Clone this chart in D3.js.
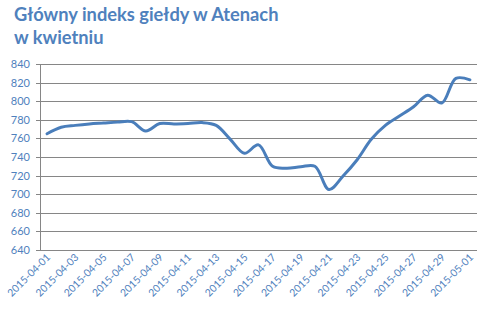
<!DOCTYPE html>
<html>
<head>
<meta charset="utf-8">
<script src="https://cdn.jsdelivr.net/npm/d3@7"></script>
<style>
  body { margin: 0; background: #fff; }
  text { font-family: Lato, "DejaVu Sans", sans-serif; }
</style>
</head>
<body>
<div id="chart"></div>
<script>
const titleLines = ["Główny indeks giełdy w Atenach", "w kwietniu"];

const dates = [
  "2015-04-01", "2015-04-02", "2015-04-03", "2015-04-04", "2015-04-05", "2015-04-06",
  "2015-04-07", "2015-04-08", "2015-04-09", "2015-04-10", "2015-04-11", "2015-04-12",
  "2015-04-13", "2015-04-14", "2015-04-15", "2015-04-16", "2015-04-17", "2015-04-18",
  "2015-04-19", "2015-04-20", "2015-04-21", "2015-04-22", "2015-04-23", "2015-04-24",
  "2015-04-25", "2015-04-26", "2015-04-27", "2015-04-28", "2015-04-29", "2015-04-30",
  "2015-05-01"
];

const values = [
  765, 772, 774, 775.5, 776.5, 777.5, 778, 768, 776, 775.5, 776, 777,
  774, 759, 744, 753, 730, 728, 729.5, 730, 705, 719.5, 737, 759,
  774, 784, 794, 806.5, 798, 824.5, 823
];

const yTicks = [640, 660, 680, 700, 720, 740, 760, 780, 800, 820, 840];

const width = 490;
const height = 309;
const margin = { top: 64, right: 13, bottom: 59, left: 40 };

const svg = d3.select("#chart").append("svg")
  .attr("width", width)
  .attr("height", height);

const x = d3.scalePoint()
  .domain(dates)
  .range([margin.left, width - margin.right])
  .padding(0.5);

const y = d3.scaleLinear()
  .domain([640, 840])
  .range([height - margin.bottom, margin.top]);

// title
svg.append("text")
  .attr("fill", "#4f81bd")
  .attr("font-size", "18.3px")
  .attr("font-weight", "bold")
  .selectAll("tspan")
  .data(titleLines)
  .enter()
  .append("tspan")
  .attr("x", 14)
  .attr("y", (d, i) => 21 + i * 23)
  .text(d => d);

// gridlines
svg.append("g")
  .selectAll("line")
  .data(yTicks)
  .enter()
  .append("line")
  .attr("x1", margin.left - 4)
  .attr("x2", width - margin.right)
  .attr("y1", d => Math.round(y(d)) + 0.5)
  .attr("y2", d => Math.round(y(d)) + 0.5)
  .attr("stroke", "#868686")
  .attr("stroke-width", 1);

// y axis line
svg.append("line")
  .attr("x1", margin.left + 0.5)
  .attr("x2", margin.left + 0.5)
  .attr("y1", y(840))
  .attr("y2", y(640))
  .attr("stroke", "#868686");

// y tick labels
svg.append("g")
  .selectAll("text")
  .data(yTicks)
  .enter()
  .append("text")
  .attr("x", 30)
  .attr("y", d => y(d) + 4)
  .attr("text-anchor", "end")
  .attr("fill", "#4f81bd")
  .attr("font-size", "11px")
  .text(d => d);

// x tick labels (every other day)
svg.append("g")
  .selectAll("text")
  .data(dates.filter((d, i) => i % 2 === 0))
  .enter()
  .append("text")
  .attr("transform", d => `translate(${x(d) + 4}, ${height - margin.bottom + 8}) rotate(-45)`)
  .attr("text-anchor", "end")
  .attr("fill", "#4f81bd")
  .attr("font-size", "10.3px")
  .text(d => d);

// line
const line = d3.line()
  .x((d, i) => x(dates[i]))
  .y(d => y(d))
  .curve(d3.curveCatmullRom.alpha(0.5));

svg.append("path")
  .datum(values)
  .attr("d", line)
  .attr("fill", "none")
  .attr("stroke", "#4a7ebb")
  .attr("stroke-width", 3)
  .attr("stroke-linecap", "round");
</script>
</body>
</html>
